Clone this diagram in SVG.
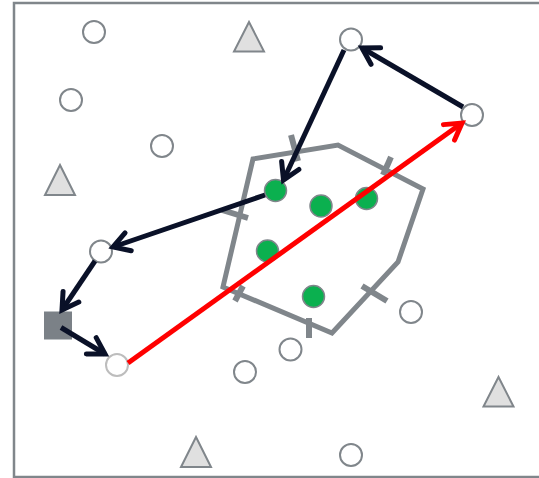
<svg xmlns="http://www.w3.org/2000/svg" width="539" height="478" viewBox="0 0 539 478">
<style>
.frame{fill:none;stroke:#80868b;stroke-width:2.5}
.hollow{fill:#fff;stroke:#80868b;stroke-width:2}
.tri{fill:#e0e0e0;stroke:#80868b;stroke-width:2;stroke-linejoin:miter}
.green{fill:#0bb04f;stroke:#80868b;stroke-width:1.5}
.poly{fill:none;stroke:#80868b;stroke-width:5;stroke-linejoin:miter}
.tick{stroke:#80868b;stroke-width:6;stroke-linecap:butt}
.arr{fill:none;stroke:#0a1128;stroke-width:5;marker-end:url(#ah)}
.red{fill:none;stroke:#ff0000;stroke-width:5;marker-end:url(#ahr)}
</style>
<defs>
<marker id="ah" markerUnits="userSpaceOnUse" markerWidth="40" markerHeight="40" refX="0" refY="0" viewBox="-25 -20 40 40" orient="auto" overflow="visible">
<path d="M-16,-9.5 L0,0 L-16,9.5" fill="none" stroke="#0a1128" stroke-width="5" stroke-linecap="round" stroke-linejoin="miter"/>
</marker>
<marker id="ahr" markerUnits="userSpaceOnUse" markerWidth="40" markerHeight="40" refX="0" refY="0" viewBox="-25 -20 40 40" orient="auto" overflow="visible">
<path d="M-16,-9.5 L0,0 L-16,9.5" fill="none" stroke="#ff0000" stroke-width="5" stroke-linecap="round" stroke-linejoin="miter"/>
</marker>
</defs>
<rect class="frame" x="14" y="3" width="600" height="474"/>
<g id="region">
<polygon class="poly" points="253,159 338,145 423,189 398,262 332,333 223,287"/>
<line class="tick" x1="291" y1="135" x2="298" y2="161"/>
<line class="tick" x1="391" y1="157" x2="383" y2="175"/>
<line class="tick" x1="362" y1="286" x2="387" y2="301"/>
<line class="tick" x1="309" y1="318" x2="309" y2="338"/>
<line class="tick" x1="235" y1="301" x2="243" y2="286"/>
<line class="tick" x1="222" y1="210" x2="248" y2="218"/>
</g>
<g id="n1"><circle class="hollow" cx="94" cy="32" r="11"/></g>
<g id="n2"><circle class="hollow" cx="71" cy="100" r="11"/></g>
<g id="n3"><circle class="hollow" cx="162" cy="146" r="11"/></g>
<g id="n4"><circle class="hollow" cx="351" cy="39.5" r="11"/></g>
<g id="n5"><circle class="hollow" cx="472" cy="115" r="11"/></g>
<g id="n6"><circle class="hollow" cx="101" cy="251.5" r="11"/></g>
<g id="n7"><circle cx="117" cy="365" r="11" fill="#fff" stroke="#bdbdbd" stroke-width="2"/></g>
<g id="n8"><circle class="hollow" cx="245" cy="372" r="11"/></g>
<g id="n9"><circle class="hollow" cx="411" cy="312" r="11"/></g>
<g id="n10"><circle class="hollow" cx="290.5" cy="349.5" r="11"/></g>
<g id="n11"><circle class="hollow" cx="351" cy="455" r="11"/></g>
<g id="t1"><polygon class="tri" points="249,22 264,51.5 234,51.5"/></g>
<g id="t2"><polygon class="tri" points="60,165 75,195 45,195"/></g>
<g id="t3"><polygon class="tri" points="196,437 211,467 181,467"/></g>
<g id="t4"><polygon class="tri" points="498.5,377 513.5,406.5 483.5,406.5"/></g>
<g id="sq"><rect x="44" y="311.5" width="28" height="28" fill="#7b8187"/></g>
<g id="g1"><circle class="green" cx="275.5" cy="190.5" r="11"/></g>
<g id="g2"><circle class="green" cx="321" cy="206" r="11"/></g>
<g id="g3"><circle class="green" cx="366.5" cy="198.5" r="11"/></g>
<g id="g4"><circle class="green" cx="267.5" cy="251" r="11"/></g>
<g id="g5"><circle class="green" cx="313.5" cy="296.5" r="11"/></g>
<g id="connectors">
<line class="arr" x1="463" y1="107" x2="362" y2="48"/>
<line class="arr" x1="344" y1="50" x2="283.5" y2="180"/>
<line class="arr" x1="265" y1="195" x2="113" y2="247"/>
<line class="arr" x1="95" y1="261" x2="62" y2="310"/>
<line class="arr" x1="61" y1="327.5" x2="105" y2="354"/>
<line class="red" x1="128" y1="363" x2="462" y2="123"/>
</g>
</svg>
